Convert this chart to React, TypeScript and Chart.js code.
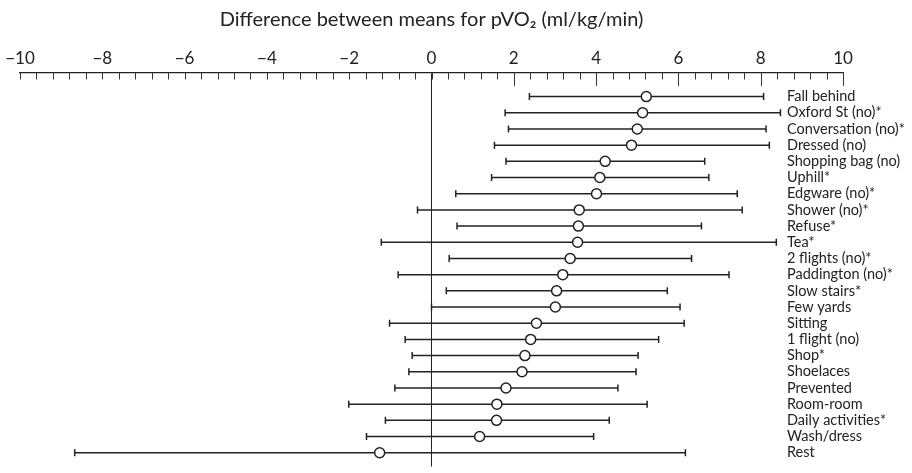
import React, { useEffect, useRef } from "react";
import { Chart, registerables } from "chart.js";

Chart.register(...registerables);

const activities = [
  "Fall behind",
  "Oxford St (no)*",
  "Conversation (no)*",
  "Dressed (no)",
  "Shopping bag (no)",
  "Uphill*",
  "Edgware (no)*",
  "Shower (no)*",
  "Refuse*",
  "Tea*",
  "2 flights (no)*",
  "Paddington (no)*",
  "Slow stairs*",
  "Few yards",
  "Sitting",
  "1 flight (no)",
  "Shop*",
  "Shoelaces",
  "Prevented",
  "Room-room",
  "Daily activities*",
  "Wash/dress",
  "Rest",
];

const meanDiff = [
  5.22, 5.13, 5.0, 4.86, 4.22, 4.09, 4.01, 3.59, 3.57, 3.55, 3.37, 3.19, 3.04,
  3.01, 2.55, 2.41, 2.27, 2.2, 1.81, 1.59, 1.58, 1.17, -1.26,
];

const ciLower = [
  2.38, 1.79, 1.87, 1.53, 1.81, 1.46, 0.59, -0.34, 0.62, -1.22, 0.43, -0.81,
  0.36, 0.0, -1.02, -0.64, -0.47, -0.55, -0.89, -2.01, -1.12, -1.58, -8.67,
];

const ciUpper = [
  8.07, 8.48, 8.13, 8.21, 6.64, 6.74, 7.43, 7.55, 6.56, 8.38, 6.32, 7.23, 5.73,
  6.04, 6.14, 5.52, 5.02, 4.97, 4.53, 5.24, 4.32, 3.94, 6.17,
];

const xTickLabels = [-10, -8, -6, -4, -2, 0, 2, 4, 6, 8, 10];
const majorTickMarks = [2, 4, 6, 8, 10];
const minorTickStep = 0.4;

const TITLE = "Difference between means for pVO\u2082 (ml/kg/min)";
const FONT = "Lato, 'Liberation Sans', sans-serif";
const INK = "#222";

const tickMarksPlugin = {
  id: "tickMarks",
  afterDraw(chart: any) {
    const xs = chart.scales.x;
    const ctx = chart.ctx;
    const top = chart.chartArea.top;
    ctx.save();
    ctx.strokeStyle = "#333";
    ctx.lineWidth = 1;
    const count = Math.round((xs.max - xs.min) / minorTickStep);
    for (let k = 0; k <= count; k++) {
      const v = xs.min + k * minorTickStep;
      const px = Math.round(xs.getPixelForValue(v)) + 0.5;
      ctx.beginPath();
      ctx.moveTo(px, top);
      ctx.lineTo(px, top + 7);
      ctx.stroke();
    }
    for (const v of majorTickMarks) {
      const px = Math.round(xs.getPixelForValue(v)) + 0.5;
      ctx.beginPath();
      ctx.moveTo(px, top);
      ctx.lineTo(px, top + 13.5);
      ctx.stroke();
    }
    ctx.restore();
  },
};

export default function App() {
  const ref = useRef<HTMLCanvasElement | null>(null);

  useEffect(() => {
    if (!ref.current) return;
    const lineSets = activities.map((_, i) => ({
      data: [
        { x: ciLower[i], y: i },
        { x: ciUpper[i], y: i },
      ],
      showLine: true,
      borderColor: INK,
      borderWidth: 1.5,
      pointRadius: 0,
      order: 2,
    }));
    const caps = {
      data: [
        ...ciLower.map((v, i) => ({ x: v, y: i })),
        ...ciUpper.map((v, i) => ({ x: v, y: i })),
      ],
      pointStyle: "line",
      rotation: 90,
      pointRadius: 3.5,
      pointBorderWidth: 1.5,
      pointBorderColor: INK,
      borderColor: INK,
      order: 1,
    };
    const means = {
      data: meanDiff.map((m, i) => ({ x: m, y: i })),
      pointRadius: 5,
      pointBackgroundColor: "#fff",
      pointBorderColor: INK,
      pointBorderWidth: 1.5,
      order: 0,
    };

    const chart = new Chart(ref.current, {
      type: "scatter",
      data: { datasets: [means as any, caps as any, ...lineSets] },
      plugins: [tickMarksPlugin],
      options: {
        animation: false,
        responsive: true,
        maintainAspectRatio: false,
        events: [],
        layout: { padding: { left: 20, right: 69, top: 0, bottom: 0 } },
        plugins: {
          legend: { display: false },
          tooltip: { enabled: false },
          title: {
            display: true,
            text: TITLE,
            color: INK,
            font: { family: FONT, size: 20, weight: "normal" },
            padding: { top: 8, bottom: 13.3 },
          },
        },
        scales: {
          x: {
            type: "linear",
            position: "top",
            min: -10,
            max: 10,
            afterBuildTicks: (scale: any) => {
              scale.ticks = xTickLabels.map((v) => ({ value: v }));
            },
            ticks: {
              color: INK,
              font: { family: FONT, size: 17 },
              padding: 3.5,
              maxRotation: 0,
              autoSkip: false,
              callback: (v: any) =>
                Number(v) < 0 ? "\u2212" + Math.abs(Number(v)) : String(v),
            },
            afterFit: (scale: any) => {
              scale.height = 27.2;
            },
            grid: {
              drawTicks: false,
              lineWidth: 1,
              color: (c: any) =>
                c.tick && c.tick.value === 0 ? INK : "rgba(0,0,0,0)",
            },
            border: { display: true, color: INK, width: 1.3 },
          },
          y: {
            type: "linear",
            position: "left",
            reverse: true,
            min: -1.49,
            max: 22.85,
            afterBuildTicks: (scale: any) => {
              scale.ticks = activities.map((_, i) => ({ value: i }));
            },
            afterFit: (scale: any) => {
              scale.width = 0;
              scale.paddingTop = 0;
              scale.paddingBottom = 0;
            },
            ticks: {
              color: INK,
              font: { family: FONT, size: 14.5 },
              mirror: true,
              crossAlign: "near",
              padding: 767,
              autoSkip: false,
              callback: (v: any) => activities[Math.round(Number(v))] ?? "",
            },
            grid: { display: false, drawTicks: false },
            border: { display: false },
          },
        },
      },
    });
    return () => chart.destroy();
  }, []);

  return (
    <div
      style={{
        position: "absolute",
        left: 0,
        top: 0,
        width: 912,
        height: 473,
        background: "#fff",
      }}
    >
      <canvas ref={ref} />
    </div>
  );
}
